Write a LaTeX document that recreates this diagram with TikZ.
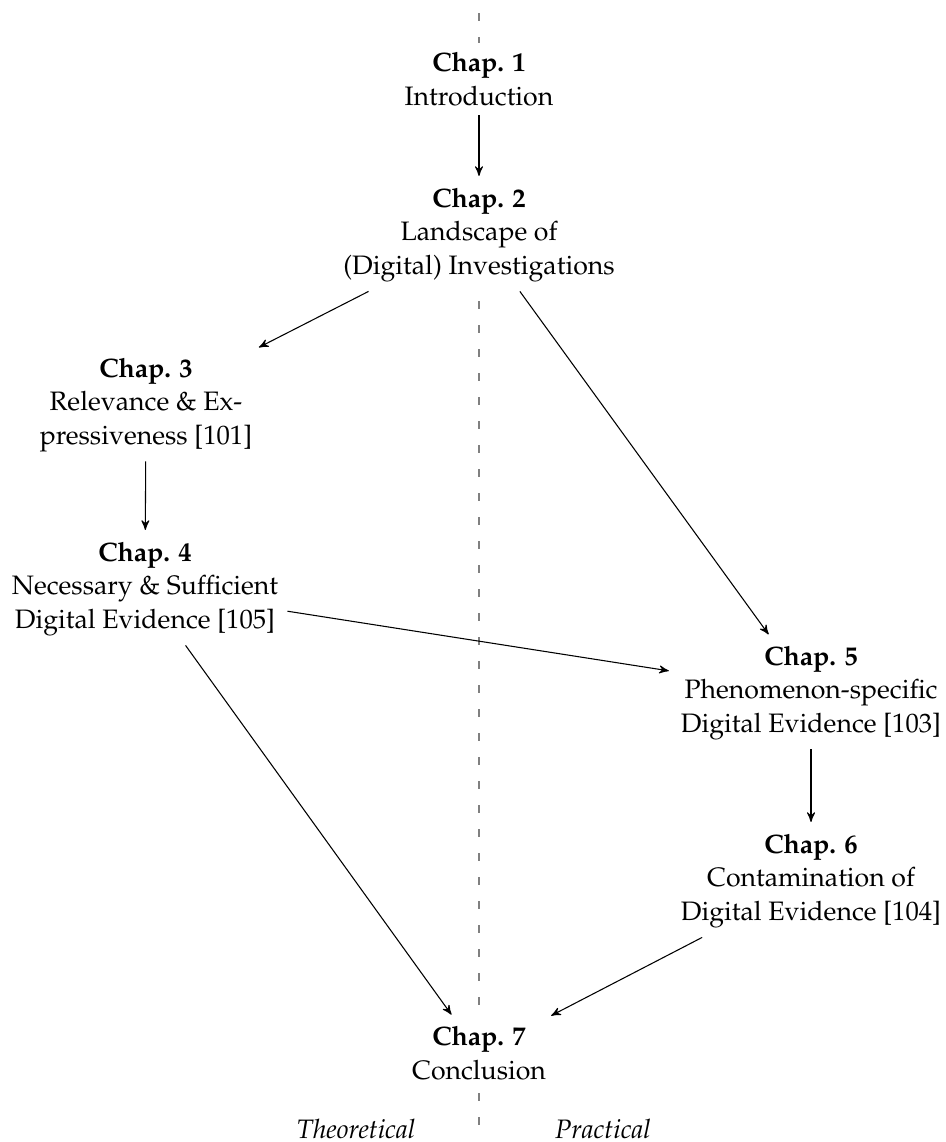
\documentclass[tikz,border=0pt]{standalone}
\usepackage[T1]{fontenc}
\usepackage{mathpazo}
\linespread{1.05}
\usetikzlibrary{arrows}

\begin{document}
\begin{tikzpicture}[->,>=stealth',shorten >=1pt,x=0.375pt,y=-0.375pt,
    chap/.style={fill=white,align=center},
    side/.style={font=\itshape}]
    \useasboundingbox (0,0) rectangle (946,1142);

    % divider between the two halves
    \coordinate (top) at (479,13);
    \coordinate (bot) at (479,1142);
    \draw[-,gray,loosely dashed] (top) -- (bot);

    \node[chap] (c1) at (479,79)   {\textbf{Chap. 1}\\Introduction};
    \node[chap] (c2) at (479,235)  {\textbf{Chap. 2}\\Landscape of\\(Digital) Investigations};
    \node[chap] (c3) at (146,405)  {\textbf{Chap. 3}\\Relevance \& Ex-\\pressiveness [101]};
    \node[chap] (c4) at (145,589)  {\textbf{Chap. 4}\\Necessary \& Sufficient\\Digital Evidence [105]};
    \node[chap] (c5) at (811,693)  {\textbf{Chap. 5}\\Phenomenon-specific\\Digital Evidence [103]};
    \node[chap] (c6) at (811,881)  {\textbf{Chap. 6}\\Contamination of\\Digital Evidence [104]};
    \node[chap] (c7) at (479,1053) {\textbf{Chap. 7}\\Conclusion};

    \node[side] (th) at (356,1129) {Theoretical};
    \node[side] (pr) at (603,1129) {Practical};

    \path (c1) edge (c2)
          (c2) edge (c3)
               edge (c5)
          (c3) edge (c4)
          (c4) edge (c5)
               edge (c7)
          (c5) edge (c6)
          (c6) edge (c7);
\end{tikzpicture}
\end{document}
